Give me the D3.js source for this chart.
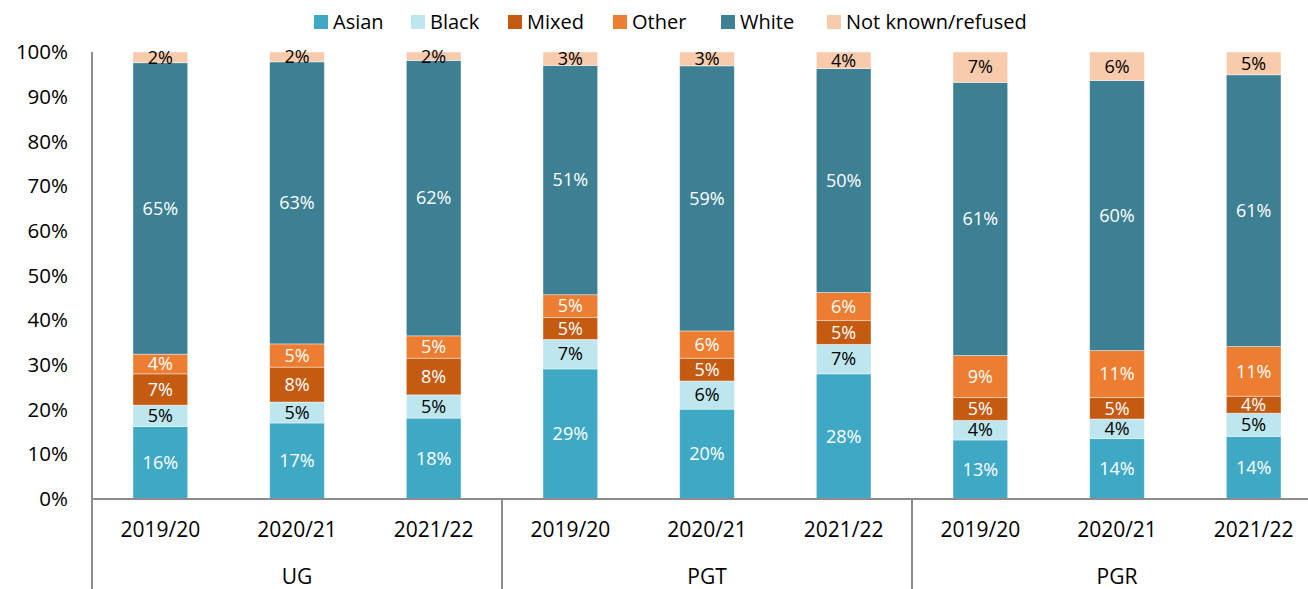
<!DOCTYPE html>
<html>
<head>
<meta charset="utf-8">
<script src="https://cdn.jsdelivr.net/npm/d3@7"></script>
<style>
  body { margin: 0; background: #fff; }
  text { font-family: 'Open Sans', sans-serif; }
</style>
</head>
<body>
<div id="chart"></div>
<script>
// level groups and years along the x axis
const groups = ['UG', 'PGT', 'PGR']
const years = ['2019/20', '2020/21', '2021/22']
const seriesNames = ['Asian', 'Black', 'Mixed', 'Other', 'White', 'Not known/refused']
const seriesColors = ['#3FA9C5', '#BEE6EE', '#C55A11', '#ED7D31', '#3D7F93', '#F8CBAD']
const labelColors = ['#fff', '#000', '#fff', '#fff', '#fff', '#000']

// percentage values, one per bar (UG x3, PGT x3, PGR x3)
const asian = [16.2, 17.0, 18.1, 29.1, 20.1, 28.0, 13.2, 13.5, 14.0]
const black = [4.8, 4.7, 5.2, 6.6, 6.3, 6.6, 4.4, 4.4, 5.2]
const mixed = [7.0, 7.8, 8.2, 4.9, 5.1, 5.3, 5.1, 4.8, 3.8]
const other = [4.4, 5.2, 5.0, 5.1, 6.1, 6.3, 9.4, 10.5, 11.1]
const white = [65.2, 63.1, 61.6, 51.3, 59.3, 50.1, 61.1, 60.4, 60.8]
const notKnown = [2.4, 2.2, 1.9, 3.0, 3.1, 3.7, 6.8, 6.4, 5.1]

const yTicks = [0, 10, 20, 30, 40, 50, 60, 70, 80, 90, 100]

const width = 1308
const height = 589
const plotLeft = 92
const plotRight = 1322
const plotTop = 52
const plotBottom = 499

const svg = d3.select('#chart').append('svg')
  .attr('width', width)
  .attr('height', height)

// build rows for stacking
const keys = []
groups.forEach((g) => years.forEach((yr) => keys.push(g + '|' + yr)))
const seriesValues = [asian, black, mixed, other, white, notKnown]
const rows = keys.map((k, i) => {
  const r = { key: k }
  seriesNames.forEach((s, j) => (r[s] = seriesValues[j][i]))
  return r
})
const stacked = d3.stack().keys(seriesNames)(rows)

const x = d3.scaleBand().domain(keys).range([plotLeft, plotRight])
  .paddingInner(0.6).paddingOuter(0.3)
const y = d3.scaleLinear().domain([0, 100]).range([plotBottom, plotTop])

// y axis labels
svg.append('g')
  .selectAll('text')
  .data(yTicks)
  .join('text')
  .attr('x', 68)
  .attr('y', (d) => y(d))
  .attr('dy', '0.35em')
  .attr('text-anchor', 'end')
  .style('font-size', '20.5px')
  .attr('fill', '#000')
  .text((d) => d + '%')

// bars
const layer = svg.append('g')
  .selectAll('g')
  .data(stacked)
  .join('g')
  .attr('fill', (d, i) => seriesColors[i])

layer.selectAll('rect')
  .data((d) => d)
  .join('rect')
  .attr('x', (d) => x(d.data.key))
  .attr('width', x.bandwidth())
  .attr('y', (d) => y(d[1]))
  .attr('height', (d) => y(d[0]) - y(d[1]))
  .attr('stroke', '#fff')
  .attr('stroke-opacity', 0.5)
  .attr('stroke-width', 0.8)

// data labels
stacked.forEach((s, i) => {
  svg.append('g')
    .selectAll('text')
    .data(s)
    .join('text')
    .attr('x', (d) => x(d.data.key) + x.bandwidth() / 2)
    .attr('y', (d) => (y(d[0]) + y(d[1])) / 2)
    .attr('dy', '0.35em')
    .attr('text-anchor', 'middle')
    .style('font-size', '18px')
    .attr('fill', labelColors[i])
    .text((d) => Math.round(d[1] - d[0]) + '%')
})

// axis lines
const axisColor = '#8c8c8c'
svg.append('line')
  .attr('x1', plotLeft).attr('x2', plotLeft)
  .attr('y1', plotTop).attr('y2', height)
  .attr('stroke', axisColor).attr('stroke-width', 2)
svg.append('line')
  .attr('x1', plotLeft).attr('x2', plotRight)
  .attr('y1', plotBottom).attr('y2', plotBottom)
  .attr('stroke', axisColor).attr('stroke-width', 2)

// group separators and group names
const step = x.step()
groups.forEach((g, gi) => {
  if (gi > 0) {
    const sx = plotLeft + gi * 3 * step
    svg.append('line')
      .attr('x1', sx).attr('x2', sx)
      .attr('y1', plotBottom).attr('y2', height)
      .attr('stroke', axisColor).attr('stroke-width', 2)
  }
  svg.append('text')
    .attr('x', x(g + '|' + years[1]) + x.bandwidth() / 2)
    .attr('y', 577)
    .attr('dy', '0.35em')
    .attr('text-anchor', 'middle')
    .style('font-size', '21px')
    .attr('fill', '#000')
    .text(g)
})

// year labels
svg.append('g')
  .selectAll('text')
  .data(keys)
  .join('text')
  .attr('x', (d) => x(d) + x.bandwidth() / 2)
  .attr('y', 530)
  .attr('dy', '0.35em')
  .attr('text-anchor', 'middle')
  .style('font-size', '21px')
  .attr('fill', '#000')
  .text((d) => d.split('|')[1])

// legend
const legendX = [314, 411, 508, 613, 721, 827]
const legend = svg.append('g')
  .selectAll('g')
  .data(seriesNames)
  .join('g')
  .attr('transform', (d, i) => `translate(${legendX[i]},22)`)
legend.append('rect')
  .attr('x', 0).attr('y', -7)
  .attr('width', 14).attr('height', 14)
  .attr('fill', (d, i) => seriesColors[i])
legend.append('text')
  .attr('x', 19)
  .attr('dy', '0.35em')
  .style('font-size', '20px')
  .attr('fill', '#000')
  .text((d) => d)
</script>
</body>
</html>
